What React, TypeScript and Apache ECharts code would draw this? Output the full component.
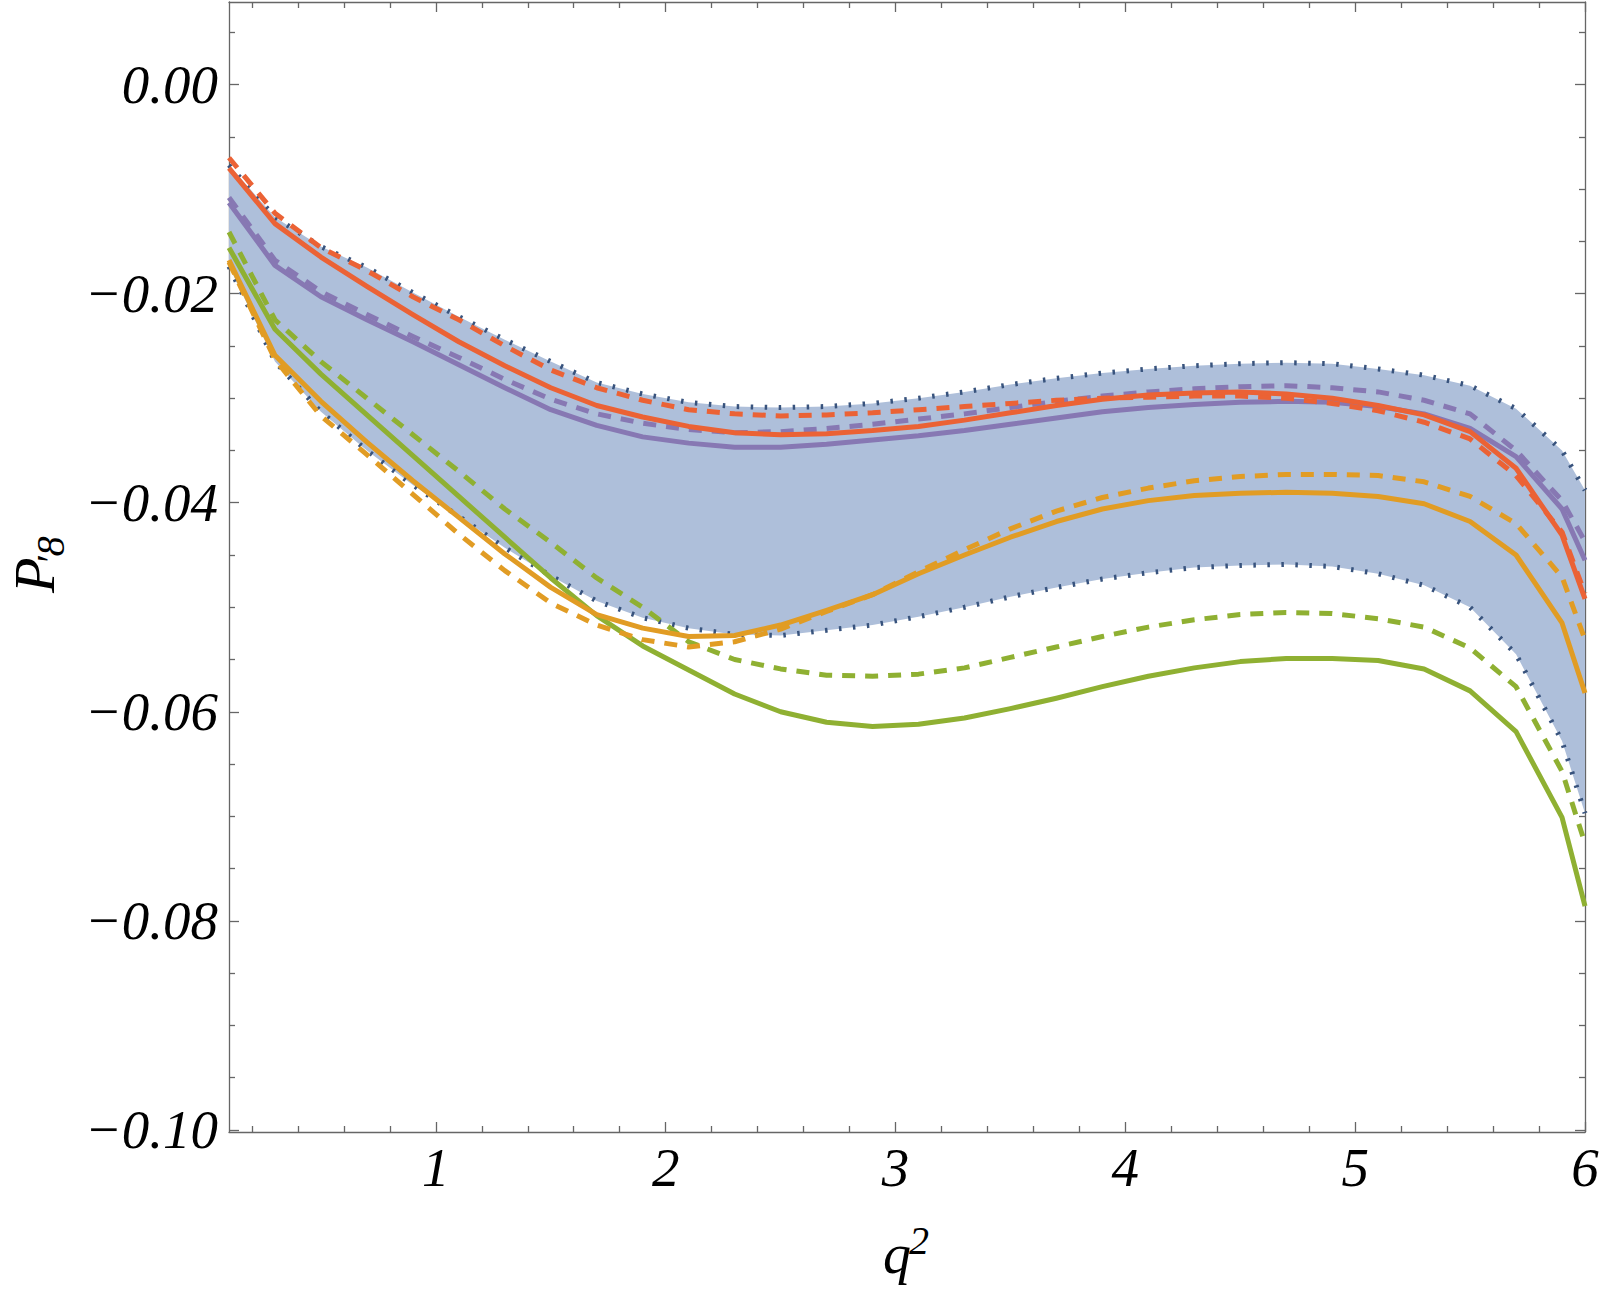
import React, { useEffect, useRef } from "react";
import * as echarts from "echarts";

// ---------- data ----------
const q2 = [0.1, 0.3, 0.5, 0.7, 0.9, 1.1, 1.3, 1.5, 1.7, 1.9, 2.1, 2.3, 2.5, 2.7, 2.9, 3.1, 3.3, 3.5, 3.7, 3.9, 4.1, 4.3, 4.5, 4.7, 4.9, 5.1, 5.3, 5.5, 5.7, 5.9, 6.0];

const bandUpper = [-0.0077, -0.0127, -0.0155, -0.0175, -0.0199, -0.0222, -0.0244, -0.0265, -0.0285, -0.0296, -0.0304, -0.0308, -0.0309, -0.0308, -0.0305, -0.0300, -0.0294, -0.0287, -0.0281, -0.0276, -0.0272, -0.0269, -0.0267, -0.0266, -0.0267, -0.0272, -0.0278, -0.0288, -0.0310, -0.0350, -0.0388];
const bandLower = [-0.0174, -0.0265, -0.0313, -0.0350, -0.0383, -0.0413, -0.0443, -0.0470, -0.0494, -0.0510, -0.0520, -0.0526, -0.0527, -0.0522, -0.0517, -0.0509, -0.0500, -0.0490, -0.0481, -0.0473, -0.0467, -0.0462, -0.0460, -0.0459, -0.0461, -0.0468, -0.0479, -0.0500, -0.0545, -0.0628, -0.0697];

const redSolid = [-0.0080, -0.0133, -0.0165, -0.0193, -0.0220, -0.0246, -0.0269, -0.0290, -0.0307, -0.0318, -0.0327, -0.0333, -0.0335, -0.0334, -0.0331, -0.0327, -0.0321, -0.0314, -0.0307, -0.0301, -0.0297, -0.0295, -0.0294, -0.0296, -0.0300, -0.0307, -0.0316, -0.0332, -0.0367, -0.0431, -0.0492];
const redDashed = [-0.0070, -0.0123, -0.0156, -0.0178, -0.0203, -0.0225, -0.0250, -0.0273, -0.0290, -0.0302, -0.0311, -0.0315, -0.0317, -0.0316, -0.0314, -0.0311, -0.0308, -0.0305, -0.0302, -0.0300, -0.0299, -0.0298, -0.0298, -0.0300, -0.0305, -0.0312, -0.0323, -0.0339, -0.0374, -0.0428, -0.0487];
const purpleSolid = [-0.0113, -0.0173, -0.0203, -0.0225, -0.0246, -0.0268, -0.0290, -0.0311, -0.0326, -0.0337, -0.0343, -0.0347, -0.0347, -0.0344, -0.0340, -0.0336, -0.0331, -0.0325, -0.0319, -0.0313, -0.0309, -0.0306, -0.0304, -0.0303, -0.0304, -0.0308, -0.0315, -0.0329, -0.0356, -0.0406, -0.0455];
const purpleDashed = [-0.0108, -0.0168, -0.0198, -0.0220, -0.0241, -0.0261, -0.0282, -0.0301, -0.0315, -0.0324, -0.0330, -0.0333, -0.0332, -0.0329, -0.0325, -0.0320, -0.0315, -0.0309, -0.0303, -0.0298, -0.0294, -0.0291, -0.0289, -0.0288, -0.0290, -0.0294, -0.0302, -0.0315, -0.0350, -0.0398, -0.0437];
const orangeSolid = [-0.0168, -0.0259, -0.0303, -0.0342, -0.0379, -0.0414, -0.0449, -0.0481, -0.0507, -0.0520, -0.0528, -0.0527, -0.0517, -0.0503, -0.0488, -0.0468, -0.0450, -0.0433, -0.0418, -0.0406, -0.0398, -0.0393, -0.0391, -0.0390, -0.0391, -0.0394, -0.0401, -0.0418, -0.0450, -0.0515, -0.0582];
const orangeDashed = [-0.0170, -0.0263, -0.0317, -0.0354, -0.0392, -0.0430, -0.0465, -0.0496, -0.0517, -0.0531, -0.0538, -0.0533, -0.0521, -0.0504, -0.0488, -0.0466, -0.0445, -0.0425, -0.0408, -0.0395, -0.0386, -0.0379, -0.0375, -0.0373, -0.0373, -0.0374, -0.0380, -0.0394, -0.0420, -0.0471, -0.0531];
const greenSolid = [-0.0156, -0.0234, -0.0277, -0.0316, -0.0355, -0.0394, -0.0433, -0.0472, -0.0508, -0.0537, -0.0560, -0.0583, -0.0600, -0.0610, -0.0614, -0.0612, -0.0606, -0.0597, -0.0587, -0.0576, -0.0566, -0.0558, -0.0552, -0.0549, -0.0549, -0.0551, -0.0559, -0.0580, -0.0619, -0.0701, -0.0786];
const greenDashed = [-0.0141, -0.0225, -0.0265, -0.0300, -0.0335, -0.0370, -0.0406, -0.0438, -0.0472, -0.0500, -0.0533, -0.0550, -0.0559, -0.0565, -0.0566, -0.0564, -0.0558, -0.0548, -0.0538, -0.0528, -0.0519, -0.0512, -0.0507, -0.0505, -0.0506, -0.0511, -0.0519, -0.0539, -0.0576, -0.0657, -0.0726];

const xTickValues = [1, 2, 3, 4, 5, 6];
const xTickLabels = ["1", "2", "3", "4", "5", "6"];
const yTickValues = [0, -0.02, -0.04, -0.06, -0.08, -0.1];
const yTickLabels = ["0.00", "\u22120.02", "\u22120.04", "\u22120.06", "\u22120.08", "\u22120.10"];

const X_MIN = 0.1;
const X_MAX = 6;
const Y_MIN = -0.1002;
const Y_MAX = 0.0079;

// minor tick positions
const xMinor: number[] = [];
for (let k = 1; k < 30; k++) {
  if (k % 5 !== 0) xMinor.push(Math.round(k * 2) / 10);
}
const yMinor: number[] = [];
for (let k = 1; k >= -19; k--) {
  if (k % 4 !== 0) yMinor.push(Number((k * 0.005).toFixed(3)));
}

const FONT = '"Liberation Serif", "Times New Roman", serif';
const AXIS_COLOR = "#666666";
const RED = "#eb6235";
const PURPLE = "#8778b3";
const ORANGE = "#e19c24";
const GREEN = "#8fb032";
const BAND_FILL = "#aebfda";
const BAND_EDGE = "#38537d";

const pairs = (ys: number[]) => q2.map((x, i) => [x, ys[i]]);

function axisBase(kind: "x" | "y", position: string, ticks: number[], len: number, showLine: boolean, labels: boolean) {
  const isX = kind === "x";
  return {
    type: "value",
    position,
    min: isX ? X_MIN : Y_MIN,
    max: isX ? X_MAX : Y_MAX,
    axisLine: { show: showLine, onZero: false, lineStyle: { color: AXIS_COLOR, width: 1.3 } },
    axisTick: {
      show: true,
      inside: true,
      length: len,
      customValues: ticks,
      lineStyle: { color: AXIS_COLOR, width: 1.3 },
    },
    axisLabel: labels
      ? {
          show: true,
          customValues: isX ? xTickValues : yTickValues,
          margin: isX ? 8 : 11,
          color: "#000",
          fontFamily: FONT,
          fontStyle: "italic",
          fontSize: 55,
          formatter: (v: number) => {
            const vals = isX ? xTickValues : yTickValues;
            const labs = isX ? xTickLabels : yTickLabels;
            const i = vals.findIndex((t) => Math.abs(t - v) < 1e-9);
            return i >= 0 ? labs[i] : "";
          },
        }
      : { show: false },
    splitLine: { show: false },
    minorTick: { show: false },
  };
}

function lineSeries(name: string, ys: number[], color: string, dashed: boolean) {
  return {
    name,
    type: "line",
    data: pairs(ys),
    showSymbol: false,
    symbol: "none",
    silent: true,
    z: 3,
    lineStyle: { color, width: 5, type: dashed ? [13, 10] : "solid", cap: "butt", join: "round" },
  };
}

function edgeSeries(name: string, ys: number[]) {
  return {
    name,
    type: "line",
    data: pairs(ys),
    showSymbol: false,
    symbol: "none",
    silent: true,
    z: 2,
    lineStyle: { color: BAND_EDGE, width: 5, type: [2.5, 11.5], cap: "butt" },
  };
}

export default function App() {
  const ref = useRef<HTMLDivElement>(null);
  useEffect(() => {
    document.body.style.margin = "0";
    if (!ref.current) return;
    const chart = echarts.init(ref.current, undefined, { renderer: "svg" });
    const option = {
      animation: false,
      backgroundColor: "#ffffff",
      grid: { left: 229, top: 2, right: 15, bottom: 157, containLabel: false, outerBoundsMode: "none" },
      xAxis: [
        axisBase("x", "bottom", xTickValues, 10, true, true),
        axisBase("x", "bottom", xMinor, 6, false, false),
        axisBase("x", "top", xTickValues, 10, true, false),
        axisBase("x", "top", xMinor, 6, false, false),
      ],
      yAxis: [
        axisBase("y", "left", yTickValues, 10, true, true),
        axisBase("y", "left", yMinor, 6, false, false),
        axisBase("y", "right", yTickValues, 10, true, false),
        axisBase("y", "right", yMinor, 6, false, false),
      ],
      series: [
        {
          name: "band",
          type: "custom",
          silent: true,
          z: 1,
          data: [[q2[0], bandUpper[0]]],
          renderItem: (_params: any, api: any) => {
            const pts: number[][] = [];
            for (let i = 0; i < q2.length; i++) pts.push(api.coord([q2[i], bandUpper[i]]));
            for (let i = q2.length - 1; i >= 0; i--) pts.push(api.coord([q2[i], bandLower[i]]));
            return { type: "polygon", shape: { points: pts }, style: { fill: BAND_FILL, stroke: "none" } };
          },
        },
        edgeSeries("bandUpper", bandUpper),
        edgeSeries("bandLower", bandLower),
        lineSeries("greenDashed", greenDashed, GREEN, true),
        lineSeries("greenSolid", greenSolid, GREEN, false),
        lineSeries("orangeDashed", orangeDashed, ORANGE, true),
        lineSeries("orangeSolid", orangeSolid, ORANGE, false),
        lineSeries("purpleDashed", purpleDashed, PURPLE, true),
        lineSeries("purpleSolid", purpleSolid, PURPLE, false),
        lineSeries("redDashed", redDashed, RED, true),
        lineSeries("redSolid", redSolid, RED, false),
      ],
      graphic: [
        {
          type: "group",
          x: 52,
          y: 593,
          rotation: Math.PI / 2,
          silent: true,
          children: [
            {
              type: "text",
              x: 0,
              y: -17.4,
              style: { text: "P", fontFamily: FONT, fontStyle: "italic", fontSize: 58, fill: "#000", align: "left", verticalAlign: "middle" },
            },
            {
              type: "text",
              x: 28,
              y: -2,
              style: { text: "\u2032" + "8", fontFamily: FONT, fontStyle: "italic", fontSize: 40, fill: "#000", align: "left", verticalAlign: "middle" },
            },
          ],
        },
        {
          type: "text",
          x: 883,
          y: 1254,
          silent: true,
          style: { text: "q", fontFamily: FONT, fontStyle: "italic", fontSize: 56, fill: "#000", align: "left", verticalAlign: "middle" },
        },
        {
          type: "text",
          x: 909,
          y: 1240,
          silent: true,
          style: { text: "2", fontFamily: FONT, fontStyle: "italic", fontSize: 40, fill: "#000", align: "left", verticalAlign: "middle" },
        },
      ],
    };
    chart.setOption(option as any);
    return () => chart.dispose();
  }, []);
  return <div ref={ref} style={{ width: 1600, height: 1289 }} />;
}
